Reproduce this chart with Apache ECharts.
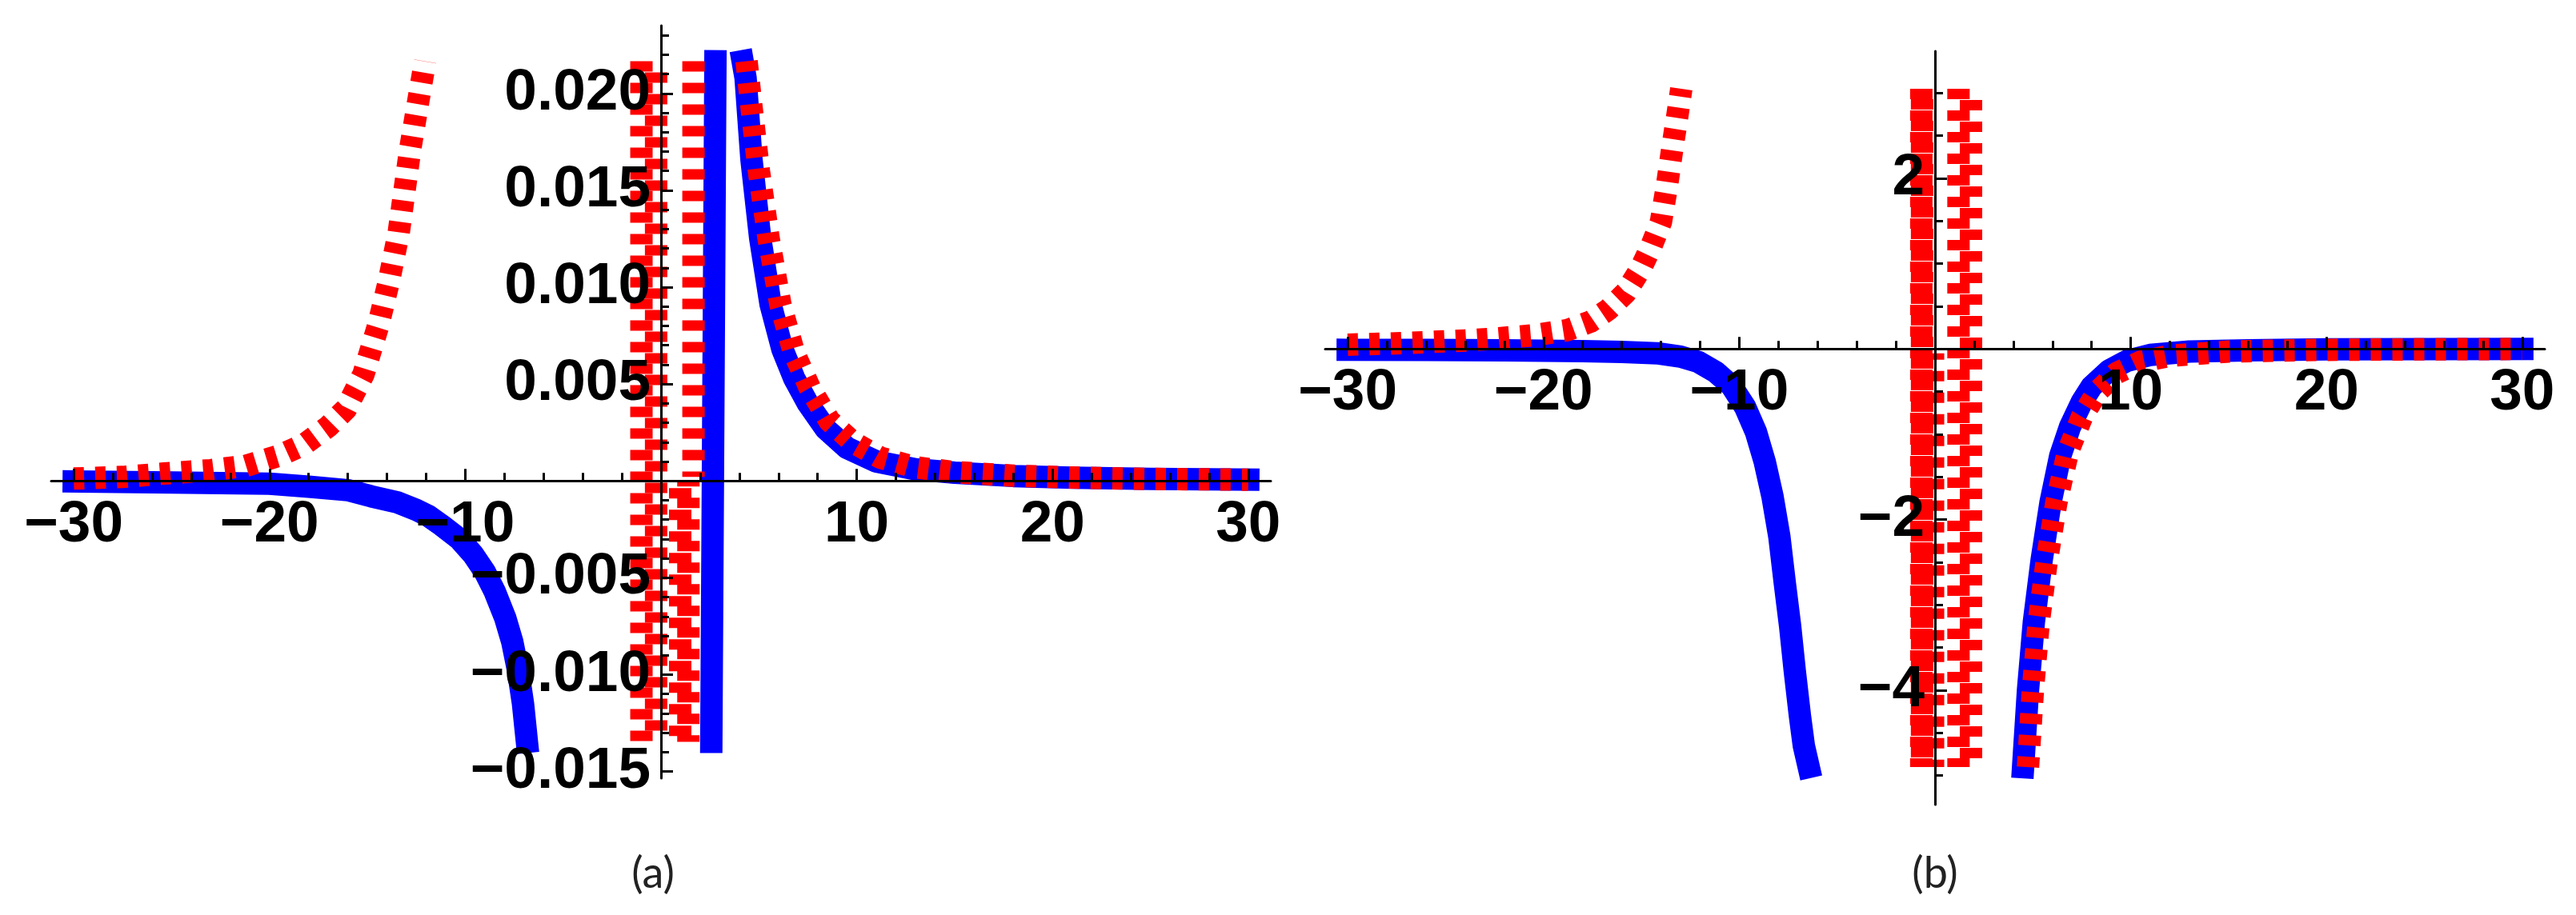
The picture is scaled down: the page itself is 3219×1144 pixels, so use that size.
<!DOCTYPE html>
<html>
<head>
<meta charset="utf-8">
<script src="https://cdn.jsdelivr.net/npm/echarts@6/dist/echarts.min.js"></script>
<style>
  html, body { margin: 0; padding: 0; background: #fff; }
  #chart { width: 3219px; height: 1144px; }
</style>
</head>
<body>
<div id="chart"></div>
<script>
// ---------- panel (a) ----------
var blueLeftA_x = [-30, -25, -20, -18, -16, -14.8, -13.5, -12.5, -11.9, -11.2, -10.3, -9.6, -9.0, -8.5, -7.95, -7.6, -7.3, -7.05, -6.85];
var blueLeftA_y = [-0.00003, -0.00008, -0.00015, -0.0003, -0.00048, -0.0008, -0.0011, -0.0015, -0.0018, -0.0023, -0.003, -0.0038, -0.0047, -0.0057, -0.0071, -0.0083, -0.0098, -0.0115, -0.01347];
var blueMidA_x = [2.57, 2.78];
var blueMidA_y = [-0.01347, 0.02166];
var blueRightA_x = [4.17, 4.32, 4.62, 5.07, 5.6, 6.2, 6.8, 7.5, 8.4, 9.5, 11, 13, 15, 18, 21, 25, 30];
var blueRightA_y = [0.02166, 0.0208, 0.0166, 0.0125, 0.0091, 0.0068, 0.0053, 0.004, 0.0027, 0.0017, 0.001, 0.0006, 0.00042, 0.00025, 0.00016, 0.0001, 0.00006];
var redLeftA_x = [-30, -27.5, -25.4, -23, -21.2, -19.5, -18.2, -17, -16.1, -15.2, -14.45, -13.9, -13.4, -12.8, -12.4, -12.05];
var redLeftA_y = [0.00012, 0.0002, 0.00038, 0.00055, 0.00078, 0.0013, 0.0019, 0.0028, 0.0037, 0.0055, 0.008, 0.0103, 0.0128, 0.0172, 0.0196, 0.02166];
var redRightA_x = [4.37, 4.6, 5.0, 5.5, 6.1, 6.8, 7.6, 8.6, 9.8, 11.2, 13, 15, 18, 21, 25, 30];
var redRightA_y = [0.02166, 0.0195, 0.016, 0.0125, 0.0091, 0.0066, 0.0048, 0.0031, 0.002, 0.0012, 0.0007, 0.00045, 0.00027, 0.00017, 0.0001, 0.00006];
// near-vertical red strokes around x = 0
var redColA_x = [-1.0, -0.25, 1.66, 1.4, 0.98];
var redColA_top = [0.02166, 0.02166, 0.02166, 0.0, 0.0];
var redColA_bottom = [-0.01347, -0.01347, 0.0002, -0.01347, -0.01347];

var xMajorA = [-30, -20, -10, 10, 20, 30];
var xMinorA = [-30, -28, -26, -24, -22, -20, -18, -16, -14, -12, -10, -8, -6, -4, -2, 0, 2, 4, 6, 8, 10, 12, 14, 16, 18, 20, 22, 24, 26, 28, 30];
var yMajorA = [-0.015, -0.01, -0.005, 0.005, 0.01, 0.015, 0.02];
var yMinorA = [-0.015, -0.014, -0.013, -0.012, -0.011, -0.01, -0.009, -0.008, -0.007, -0.006, -0.005, -0.004, -0.003, -0.002, -0.001, 0, 0.001, 0.002, 0.003, 0.004, 0.005, 0.006, 0.007, 0.008, 0.009, 0.01, 0.011, 0.012, 0.013, 0.014, 0.015, 0.016, 0.017, 0.018, 0.019, 0.02, 0.021, 0.022, 0.023];

// ---------- panel (b) ----------
var blueLeftB_x = [-30, -26, -22, -20, -18, -16, -14.2, -13, -12.1, -11.2, -10.4, -9.7, -9.15, -8.7, -8.3, -7.95, -7.67, -7.4, -7.16, -6.9, -6.7, -6.45];
var blueLeftB_y = [-0.01, -0.012, -0.015, -0.02, -0.025, -0.035, -0.05, -0.09, -0.15, -0.27, -0.43, -0.68, -0.97, -1.32, -1.73, -2.2, -2.75, -3.25, -3.78, -4.3, -4.65, -4.9];
var blueRightB_x = [4.5, 4.75, 5.05, 5.45, 5.9, 6.4, 6.9, 7.5, 8.0, 8.9, 9.8, 11, 13, 16, 20, 25, 30];
var blueRightB_y = [-4.9, -4.0, -3.2, -2.47, -1.8, -1.25, -0.91, -0.62, -0.44, -0.25, -0.14, -0.07, -0.03, -0.015, -0.005, -0.002, 0];
var redLeftB_x = [-30, -27, -24, -22.6, -20.5, -18.8, -17.6, -16.7, -15.8, -15.04, -14.5, -14.0, -13.7, -13.4, -13.15, -12.96];
var redLeftB_y = [0.05, 0.07, 0.1, 0.12, 0.16, 0.22, 0.32, 0.46, 0.66, 0.94, 1.2, 1.49, 1.9, 2.38, 2.75, 3.05];
var redRightB_x = [4.75, 5.0, 5.3, 5.7, 6.2, 6.8, 7.5, 8.3, 9.3, 10.5, 12, 15, 20, 25, 30];
var redRightB_y = [-4.9, -4.0, -3.2, -2.5, -1.8, -1.2, -0.8, -0.5, -0.28, -0.15, -0.08, -0.03, -0.01, -0.004, 0];
var redColB_x = [-0.7, -0.66, -0.1, 1.2, 1.84];
var redColB_top = [3.05, 3.05, -0.05, 3.05, 3.05];
var redColB_bottom = [-4.9, -4.9, -4.9, -4.9, -4.9];

var xMajorB = [-30, -20, -10, 10, 20, 30];
var xMinorB = xMinorA;
var yMajorB = [-4, -2, 2];
var yMinorB = [-5, -4.5, -4, -3.5, -3, -2.5, -2, -1.5, -1, -0.5, 0, 0.5, 1, 1.5, 2, 2.5, 3];

var panelLabels = ['(a)', '(b)'];

// ---------- layout / styles ----------
var XR = [-31.15, 31.15];
var YR_A = [-0.01535, 0.0235];
var YR_B = [-5.34, 3.49];
var grids = [
  { left: 64, top: 32, width: 1524, height: 941 },
  { left: 1656, top: 64, width: 1524, height: 942 }
];
var BLUE = '#0000ff';
var RED = '#ff0000';
var LW = 28;
var DASH = [13, 14];
var redColA_offset = [0, 13, 0, 6, 18];
var redColB_offset = [0, 14, 5, 0, 13];

function minusFmt(digits) {
  return function (v) {
    var s = digits ? Math.abs(v).toFixed(digits) : String(Math.abs(v));
    return (v < 0 ? '\u2212' : '') + s;
  };
}

var labelFont = {
  fontFamily: 'Liberation Sans, Arial, sans-serif',
  fontWeight: 'bold',
  fontSize: 73,
  color: '#000'
};
var tickStyle = { color: '#000', width: 3 };

// the axes cross at zero: shift each one in from the grid edge
function zeroShift(range, size) {
  return -size * (0 - range[0]) / (range[1] - range[0]);
}

function xAxisPair(g, yRange, major, minor) {
  var off = zeroShift(yRange, grids[g].height);
  return [{
    type: 'value', gridIndex: g, min: XR[0], max: XR[1], position: 'bottom', offset: off, z: 10,
    axisLine: { onZero: false, lineStyle: tickStyle },
    axisTick: { inside: true, length: 15, customValues: major, lineStyle: tickStyle },
    axisLabel: Object.assign({ customValues: major, margin: 19, formatter: minusFmt(0) }, labelFont),
    splitLine: { show: false }
  }, {
    type: 'value', gridIndex: g, min: XR[0], max: XR[1], position: 'bottom', offset: off, z: 10,
    axisLine: { show: false, onZero: false },
    axisTick: { inside: true, length: 10, customValues: minor, lineStyle: tickStyle },
    axisLabel: { show: false },
    splitLine: { show: false }
  }];
}

function yAxisPair(g, yRange, major, minor, digits) {
  var off = zeroShift(XR, grids[g].width);
  return [{
    type: 'value', gridIndex: g, min: yRange[0], max: yRange[1], position: 'left', offset: off, z: 10,
    axisLine: { onZero: false, lineStyle: tickStyle },
    axisTick: { inside: true, length: 15, customValues: major, lineStyle: tickStyle },
    axisLabel: Object.assign({ customValues: major, margin: 13, formatter: minusFmt(digits) }, labelFont),
    splitLine: { show: false }
  }, {
    type: 'value', gridIndex: g, min: yRange[0], max: yRange[1], position: 'left', offset: off, z: 10,
    axisLine: { show: false, onZero: false },
    axisTick: { inside: true, length: 10, customValues: minor, lineStyle: tickStyle },
    axisLabel: { show: false },
    splitLine: { show: false }
  }];
}

function pts(xs, ys) {
  return xs.map(function (x, i) { return [x, ys[i]]; });
}

function line(data, axis, dashed, offset) {
  return {
    type: 'line', xAxisIndex: axis, yAxisIndex: axis, data: data,
    showSymbol: false, symbol: 'none', smooth: false,
    animation: false, silent: true,
    z: dashed ? 3 : 2,
    lineStyle: dashed
      ? { color: RED, width: LW, type: DASH, dashOffset: offset || 0, cap: 'butt', join: 'round' }
      : { color: BLUE, width: LW, type: 'solid', cap: 'square', join: 'round' }
  };
}

var series = [
  line(pts(blueLeftA_x, blueLeftA_y), 0, false),
  line(pts(blueMidA_x, blueMidA_y), 0, false),
  line(pts(blueRightA_x, blueRightA_y), 0, false),
  line(pts(blueLeftB_x, blueLeftB_y), 2, false),
  line(pts(blueRightB_x, blueRightB_y), 2, false)
];
redColA_x.forEach(function (x, i) {
  series.push(line([[x, redColA_top[i]], [x, redColA_bottom[i]]], 0, true, redColA_offset[i]));
});
redColB_x.forEach(function (x, i) {
  series.push(line([[x, redColB_top[i]], [x, redColB_bottom[i]]], 2, true, redColB_offset[i]));
});
series.push(
  line(pts(redLeftA_x, redLeftA_y), 0, true),
  line(pts(redRightA_x, redRightA_y), 0, true),
  line(pts(redLeftB_x, redLeftB_y), 2, true),
  line(pts(redRightB_x, redRightB_y), 2, true)
);

var chart = echarts.init(document.getElementById('chart'));
chart.setOption({
  backgroundColor: '#fff',
  animation: false,
  grid: grids.map(function (g) {
    return Object.assign({ outerBoundsMode: 'none', containLabel: false }, g);
  }),
  xAxis: xAxisPair(0, YR_A, xMajorA, xMinorA).concat(xAxisPair(1, YR_B, xMajorB, xMinorB)),
  yAxis: yAxisPair(0, YR_A, yMajorA, yMinorA, 3).concat(yAxisPair(1, YR_B, yMajorB, yMinorB, 0)),
  graphic: [
    { type: 'text', x: 816, y: 1093, style: { text: panelLabels[0], align: 'center', verticalAlign: 'middle', font: '54px Lato, "Open Sans", sans-serif', fill: '#222' } },
    { type: 'text', x: 2418, y: 1093, style: { text: panelLabels[1], align: 'center', verticalAlign: 'middle', font: '54px Lato, "Open Sans", sans-serif', fill: '#222' } }
  ],
  series: series
});
</script>
</body>
</html>
